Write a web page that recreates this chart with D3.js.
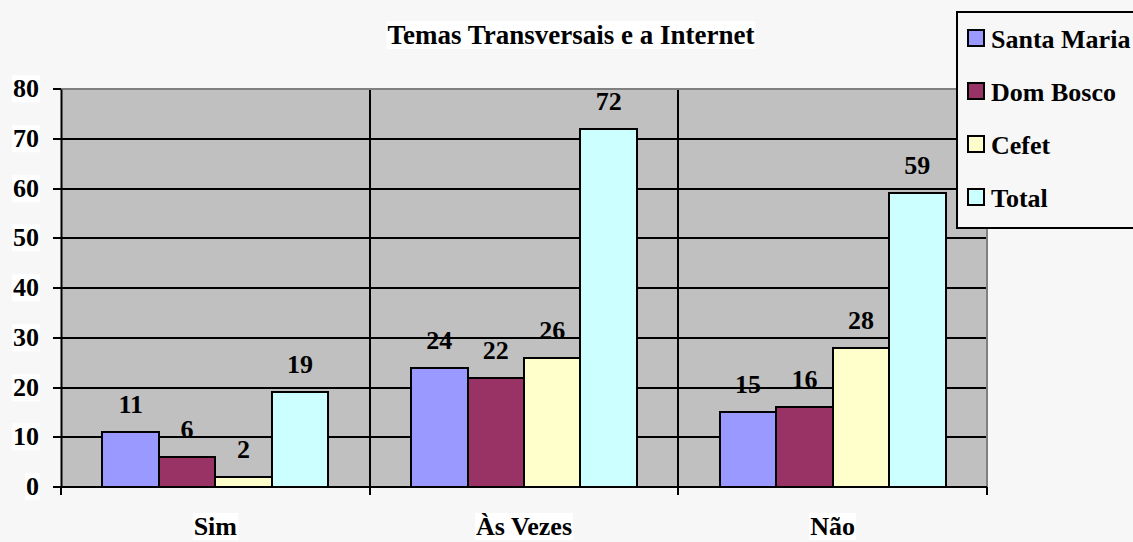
<!DOCTYPE html>
<html>
<head>
<meta charset="utf-8">
<script src="https://cdn.jsdelivr.net/npm/d3@7"></script>
<style>
  body { margin: 0; background: #f7f7f7; }
  text { font-family: "Liberation Serif", "Times New Roman", serif; font-weight: bold; fill: #000; }
</style>
</head>
<body>
<div id="chart"></div>
<script>
var categories = ["Sim", "Às Vezes", "Não"];
var seriesNames = ["Santa Maria", "Dom Bosco", "Cefet", "Total"];
var santaMaria = [11, 24, 15];
var domBosco = [6, 22, 16];
var cefet = [2, 26, 28];
var total = [19, 72, 59];
var colors = ["#9999ff", "#993366", "#ffffcc", "#ccffff"];
var yTicks = [0, 10, 20, 30, 40, 50, 60, 70, 80];

var width = 1133, height = 542;
var plot = { left: 61, right: 987, top: 89, bottom: 487 };

var allSeries = [santaMaria, domBosco, cefet, total];

var svg = d3.select("#chart").append("svg")
    .attr("width", width)
    .attr("height", height);

svg.append("rect")
    .attr("width", width)
    .attr("height", height)
    .style("fill", "#f7f7f7");

var x0 = d3.scaleBand()
    .domain(categories)
    .range([plot.left, plot.right])
    .padding(0);

var x1 = d3.scaleBand()
    .domain(seriesNames)
    .range([0, x0.bandwidth()])
    .paddingInner(0)
    .paddingOuter(0.735);

var y = d3.scaleLinear()
    .domain([0, 80])
    .range([plot.bottom, plot.top]);

function ry(v) { return Math.round(y(v)); }

// plot background
svg.append("rect")
    .attr("x", plot.left)
    .attr("y", plot.top)
    .attr("width", plot.right - plot.left)
    .attr("height", plot.bottom - plot.top)
    .style("fill", "#c0c0c0");

// horizontal grid
svg.selectAll(".hgrid")
    .data(yTicks.filter(function (d) { return d > 0 && d < 80; }))
  .enter().append("line")
    .attr("x1", plot.left)
    .attr("x2", plot.right)
    .attr("y1", ry)
    .attr("y2", ry)
    .style("stroke", "#000")
    .style("stroke-width", 2);

// vertical grid at category boundaries
var bounds = categories.map(function (c) { return Math.round(x0(c)); }).concat([plot.right]);
svg.selectAll(".vgrid")
    .data(bounds.slice(1, bounds.length - 1))
  .enter().append("line")
    .attr("x1", function (d) { return d; })
    .attr("x2", function (d) { return d; })
    .attr("y1", plot.top)
    .attr("y2", plot.bottom)
    .style("stroke", "#000")
    .style("stroke-width", 2);

// gray top / right border
svg.append("path")
    .attr("d", "M" + plot.left + "," + plot.top + "H" + plot.right + "V" + plot.bottom)
    .style("fill", "none")
    .style("stroke", "#808080")
    .style("stroke-width", 2);

// bars
var bars = [];
categories.forEach(function (c, i) {
  seriesNames.forEach(function (s, j) {
    bars.push({ cat: c, series: s, value: allSeries[j][i], color: colors[j] });
  });
});

function barX(d) { return Math.round(x0(d.cat) + x1(d.series)); }
function barX2(d) { return Math.round(x0(d.cat) + x1(d.series) + x1.bandwidth()); }

svg.selectAll(".bar")
    .data(bars)
  .enter().append("rect")
    .attr("x", barX)
    .attr("y", function (d) { return ry(d.value); })
    .attr("width", function (d) { return barX2(d) - barX(d); })
    .attr("height", function (d) { return ry(0) - ry(d.value); })
    .style("fill", function (d) { return d.color; })
    .style("stroke", "#000")
    .style("stroke-width", 2);

svg.selectAll(".vlabel")
    .data(bars)
  .enter().append("text")
    .attr("x", function (d) { return x0(d.cat) + x1(d.series) + x1.bandwidth() / 2; })
    .attr("y", function (d) { return ry(d.value) - 19; })
    .attr("text-anchor", "middle")
    .style("font-size", "26px")
    .text(function (d) { return d.value; });

// y axis
var yAxis = svg.append("g")
    .attr("transform", "translate(" + plot.left + ",0)")
    .call(d3.axisLeft(y).tickValues(yTicks).tickSize(8).tickPadding(14).tickSizeOuter(0));
yAxis.selectAll(".tick").attr("transform", function (d) { return "translate(0," + ry(d) + ")"; });
yAxis.select(".domain").style("stroke", "#000").style("stroke-width", 2);
yAxis.selectAll(".tick line").style("stroke", "#000").style("stroke-width", 2);
yAxis.selectAll(".tick text")
    .style("font-size", "26px")
    .style("font-family", "'Liberation Serif', 'Times New Roman', serif")
    .style("font-weight", "bold");

// x axis line and boundary ticks
svg.append("line")
    .attr("x1", plot.left - 1)
    .attr("x2", plot.right)
    .attr("y1", plot.bottom)
    .attr("y2", plot.bottom)
    .style("stroke", "#000")
    .style("stroke-width", 2);

svg.selectAll(".xtick")
    .data(bounds)
  .enter().append("line")
    .attr("x1", function (d) { return d; })
    .attr("x2", function (d) { return d; })
    .attr("y1", plot.bottom)
    .attr("y2", plot.bottom + 8)
    .style("stroke", "#000")
    .style("stroke-width", 2);

var catLabels = svg.selectAll(".catlabel")
    .data(categories)
  .enter().append("text")
    .attr("x", function (d) { return x0(d) + x0.bandwidth() / 2; })
    .attr("y", 535)
    .attr("text-anchor", "middle")
    .style("font-size", "26px")
    .text(function (d) { return d; });

var title = svg.append("text")
    .attr("x", 571)
    .attr("y", 44)
    .attr("text-anchor", "middle")
    .style("font-size", "27px")
    .text("Temas Transversais e a Internet");

// white boxes behind the axis texts and title
function addBox(node) {
  var b = node.getBBox();
  svg.insert("rect", "text")
    .attr("x", b.x - 1)
    .attr("y", b.y + 1)
    .attr("width", b.width + 2)
    .attr("height", b.height - 2)
    .style("fill", "#fff");
}
catLabels.each(function () { addBox(this); });
title.each(function () { addBox(this); });
yAxis.selectAll(".tick text").each(function () {
  var b = this.getBBox();
  d3.select(this.parentNode).insert("rect", "text")
    .attr("x", b.x - 1)
    .attr("y", b.y + 1)
    .attr("width", b.width + 2)
    .attr("height", b.height - 2)
    .style("fill", "#fff");
});

// legend
var legend = svg.append("g");
legend.append("rect")
    .attr("x", 957)
    .attr("y", 12)
    .attr("width", 200)
    .attr("height", 216)
    .style("fill", "#f7f7f7")
    .style("stroke", "#000")
    .style("stroke-width", 2);

var legendY = d3.scalePoint()
    .domain(seriesNames)
    .range([38, 197]);

var items = legend.selectAll(".item")
    .data(seriesNames)
  .enter().append("g")
    .attr("transform", function (d) { return "translate(0," + Math.round(legendY(d)) + ")"; });

items.append("rect")
    .attr("x", 968)
    .attr("y", -8)
    .attr("width", 16)
    .attr("height", 16)
    .style("fill", function (d, i) { return colors[i]; })
    .style("stroke", "#000")
    .style("stroke-width", 2);

items.append("text")
    .attr("x", 991)
    .attr("y", 10)
    .style("font-size", "26px")
    .text(function (d) { return d; });
</script>
</body>
</html>
